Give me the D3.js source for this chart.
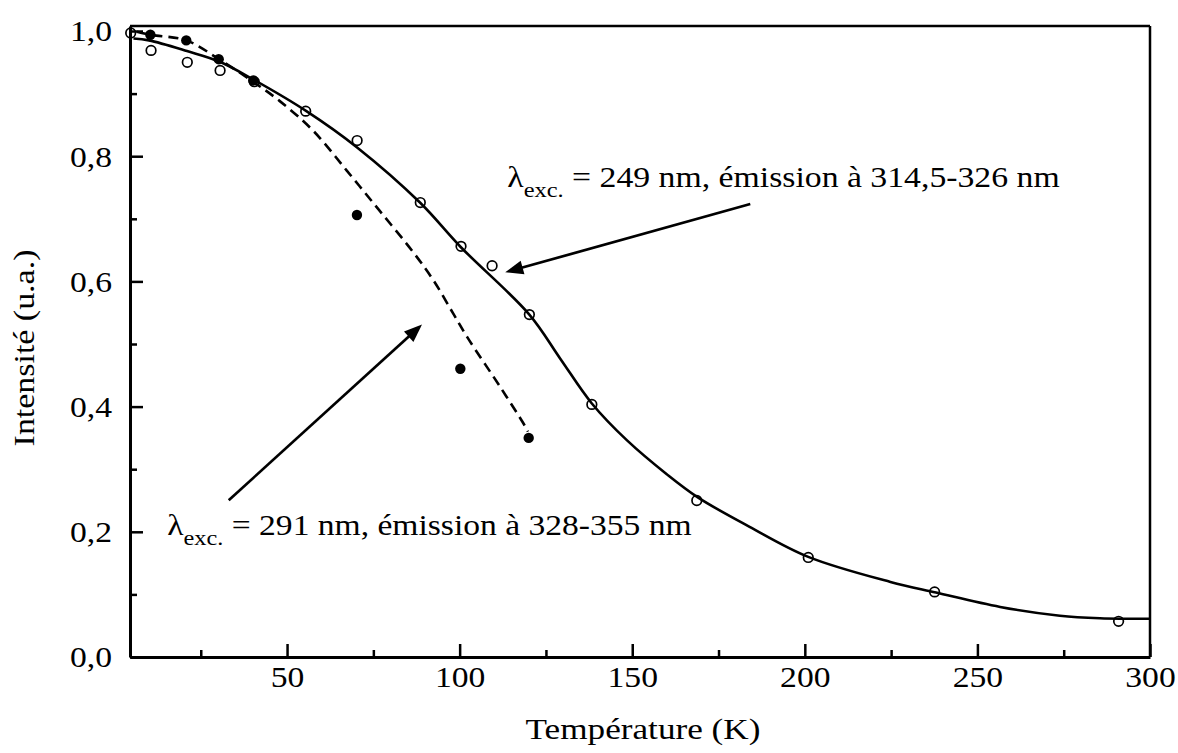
<!DOCTYPE html>
<html><head><meta charset="utf-8">
<script src="https://cdn.jsdelivr.net/npm/d3@7"></script>
<style>
body{margin:0;background:#fff}
svg{display:block}
text{font-family:"Liberation Serif","Times New Roman",Times,serif;fill:#000}
</style>
</head><body>
<svg id="c" width="1178" height="753"></svg>
<script>
// ---- data ----
const openT = [4.7,10.6,21.1,30.6,40.5,55.4,70.3,88.6,100.4,109.4,120.2,138.3,168.7,201.0,237.6,290.9];
const openI = [0.997,0.969,0.950,0.937,0.919,0.872,0.825,0.726,0.656,0.625,0.547,0.4035,0.250,0.159,0.104,0.057];

const filledT = [10.4,20.8,30.2,40.2,70.25,100.2,120.0];
const filledI = [0.994,0.985,0.955,0.921,0.706,0.4605,0.350];

const solidT = [5.5,10,21,30.5,40.4,55.6,70.3,88.5,100.3,120.2,129.1,138.3,148.5,160,169,184,201,224.8,238,256.6,273.9,285.5,300];
const solidI = [0.988,0.985,0.968,0.951,0.922,0.872,0.814,0.726,0.655,0.547,0.477,0.405,0.346,0.292,0.255,0.208,0.160,0.120,0.103,0.080,0.066,0.062,0.061];

const dashT = [6.5,10.4,20.8,30,40.4,47.9,57.6,67.3,76.8,86.5,92.5,98.2,102.2,111.8,118.5,119.8];
const dashI = [0.999,0.994,0.985,0.956,0.918,0.888,0.8405,0.777,0.713,0.647,0.601,0.548,0.511,0.431,0.373,0.360];

const xMajor = [50,100,150,200,250,300];
const xMinor = [25,75,125,175,225,275];
const yMajor = [0,0.2,0.4,0.6,0.8,1.0];
const yMinor = [0.1,0.3,0.5,0.7,0.9];

const xTitle = "Température (K)";
const yTitle = "Intensité (u.a.)";
const ann1 = {sub:"exc.", rest:" = 249 nm, émission à 314,5-326 nm", T:113.8, I:0.751, width:553};
const ann2 = {sub:"exc.", rest:" = 291 nm, émission à 328-355 nm", T:15.3, I:0.1946, width:525};
const arrow1 = {fromT:184.2, fromI:0.7236, toT:113.2, toI:0.6145};
const arrow2 = {fromT:33.1, fromI:0.2504, toT:89.1, toI:0.531};

// ---- drawing ----
const svg = d3.select('#c');
const x = d3.scaleLinear().domain([4.5,300]).range([130,1150]);
const y = d3.scaleLinear().domain([0,1.008]).range([657,26]);
const SX = 1.16;
const fmt = d => d3.format('.1f')(d).replace('.',',');
const FONT = '"Liberation Serif","Times New Roman",Times,serif';

// frame (top/right)
svg.append('line').attr('x1',x(4.5)).attr('x2',x(300)).attr('y1',y(1.008)).attr('y2',y(1.008))
  .attr('stroke','#000').attr('stroke-width',2.5);
svg.append('line').attr('x1',x(300)).attr('x2',x(300)).attr('y1',y(1.008)).attr('y2',y(0))
  .attr('stroke','#000').attr('stroke-width',2.5);

function styleAxis(g){
  g.attr('font-size',null).attr('font-family',FONT);
  g.select('.domain').attr('stroke-width',3);
  g.selectAll('.tick line').attr('stroke-width',2.5);
}

// left axis
const gL = svg.append('g').attr('transform',`translate(${x(4.5)},0)`)
  .call(d3.axisLeft(y).tickValues(yMajor).tickSize(-13).tickSizeOuter(0).tickFormat(fmt));
styleAxis(gL);
gL.selectAll('.tick text').attr('x',-18/SX).attr('dy','0.34em')
  .attr('transform',`scale(${SX},1)`).style('font-size','29px').style('font-family',FONT);
const gLm = svg.append('g').attr('transform',`translate(${x(4.5)},0)`)
  .call(d3.axisLeft(y).tickValues(yMinor).tickSize(-7).tickSizeOuter(0).tickFormat(''));
gLm.select('.domain').remove();
gLm.selectAll('.tick line').attr('stroke-width',2.5);

// bottom axis
const gB = svg.append('g').attr('transform',`translate(0,${y(0)})`)
  .call(d3.axisBottom(x).tickValues(xMajor).tickSize(-13).tickSizeOuter(0).tickFormat(d3.format('d')));
styleAxis(gB);
gB.selectAll('.tick text').attr('y',30).attr('dy','0')
  .attr('transform',`scale(${SX},1)`).style('font-size','29px').style('font-family',FONT);
const gBm = svg.append('g').attr('transform',`translate(0,${y(0)})`)
  .call(d3.axisBottom(x).tickValues(xMinor).tickSize(-7).tickSizeOuter(0).tickFormat(''));
gBm.select('.domain').remove();
gBm.selectAll('.tick line').attr('stroke-width',2.5);

// fitted curves
const line = d3.line().x(d=>x(d[0])).y(d=>y(d[1])).curve(d3.curveCatmullRom.alpha(0.5));
svg.append('path').datum(solidT.map((t,i)=>[t,solidI[i]]))
  .attr('d',line).attr('fill','none').attr('stroke','#000').attr('stroke-width',2.6);
svg.append('path').datum(dashT.map((t,i)=>[t,dashI[i]]))
  .attr('d',line).attr('fill','none').attr('stroke','#000').attr('stroke-width',2.6)
  .attr('stroke-dasharray','10,6');

// points
svg.append('g').selectAll('circle').data(filledT.map((t,i)=>[t,filledI[i]])).join('circle')
  .attr('cx',d=>x(d[0])).attr('cy',d=>y(d[1])).attr('r',5.2).attr('fill','#000');
svg.append('g').selectAll('circle').data(openT.map((t,i)=>[t,openI[i]])).join('circle')
  .attr('cx',d=>x(d[0])).attr('cy',d=>y(d[1])).attr('r',4.8)
  .attr('fill','none').attr('stroke','#000').attr('stroke-width',1.7);

// arrows
function arrow(a){
  const x1=x(a.fromT), y1=y(a.fromI), x2=x(a.toT), y2=y(a.toI);
  const dx=x2-x1, dy=y2-y1, L=Math.hypot(dx,dy), ux=dx/L, uy=dy/L;
  const hl=18, hw=7;
  const bx=x2-ux*hl, by=y2-uy*hl;
  svg.append('line').attr('x1',x1).attr('y1',y1).attr('x2',bx+ux*2).attr('y2',by+uy*2)
    .attr('stroke','#000').attr('stroke-width',2.7);
  svg.append('path').attr('d',`M${x2},${y2}L${bx-uy*hw},${by+ux*hw}L${bx+uy*hw},${by-ux*hw}Z`)
    .attr('fill','#000');
}
arrow(arrow1); arrow(arrow2);

// text helpers
function fitWidth(t, w, base){
  const bw = t.node().getBBox().width;
  const s = w/bw;
  t.attr('transform', base + ` scale(${s},1)`);
}
function annotate(a){
  const t = svg.append('text').attr('x',0).attr('y',0).style('font-size','29px').style('font-family',FONT);
  t.append('tspan').text('λ');
  t.append('tspan').text(a.sub).style('font-size','21px').attr('dy',10);
  t.append('tspan').text(a.rest).attr('dy',-10);
  fitWidth(t, a.width, `translate(${x(a.T)},${y(a.I)})`);
}
annotate(ann1); annotate(ann2);

const xt = svg.append('text').attr('text-anchor','middle').style('font-size','29px').style('font-family',FONT).text(xTitle);
fitWidth(xt, 235, `translate(643,739)`);
const yt = svg.append('text').attr('text-anchor','middle').style('font-size','29px').style('font-family',FONT).text(yTitle);
fitWidth(yt, 197, `translate(34,348) rotate(-90)`);
</script>
</body></html>
